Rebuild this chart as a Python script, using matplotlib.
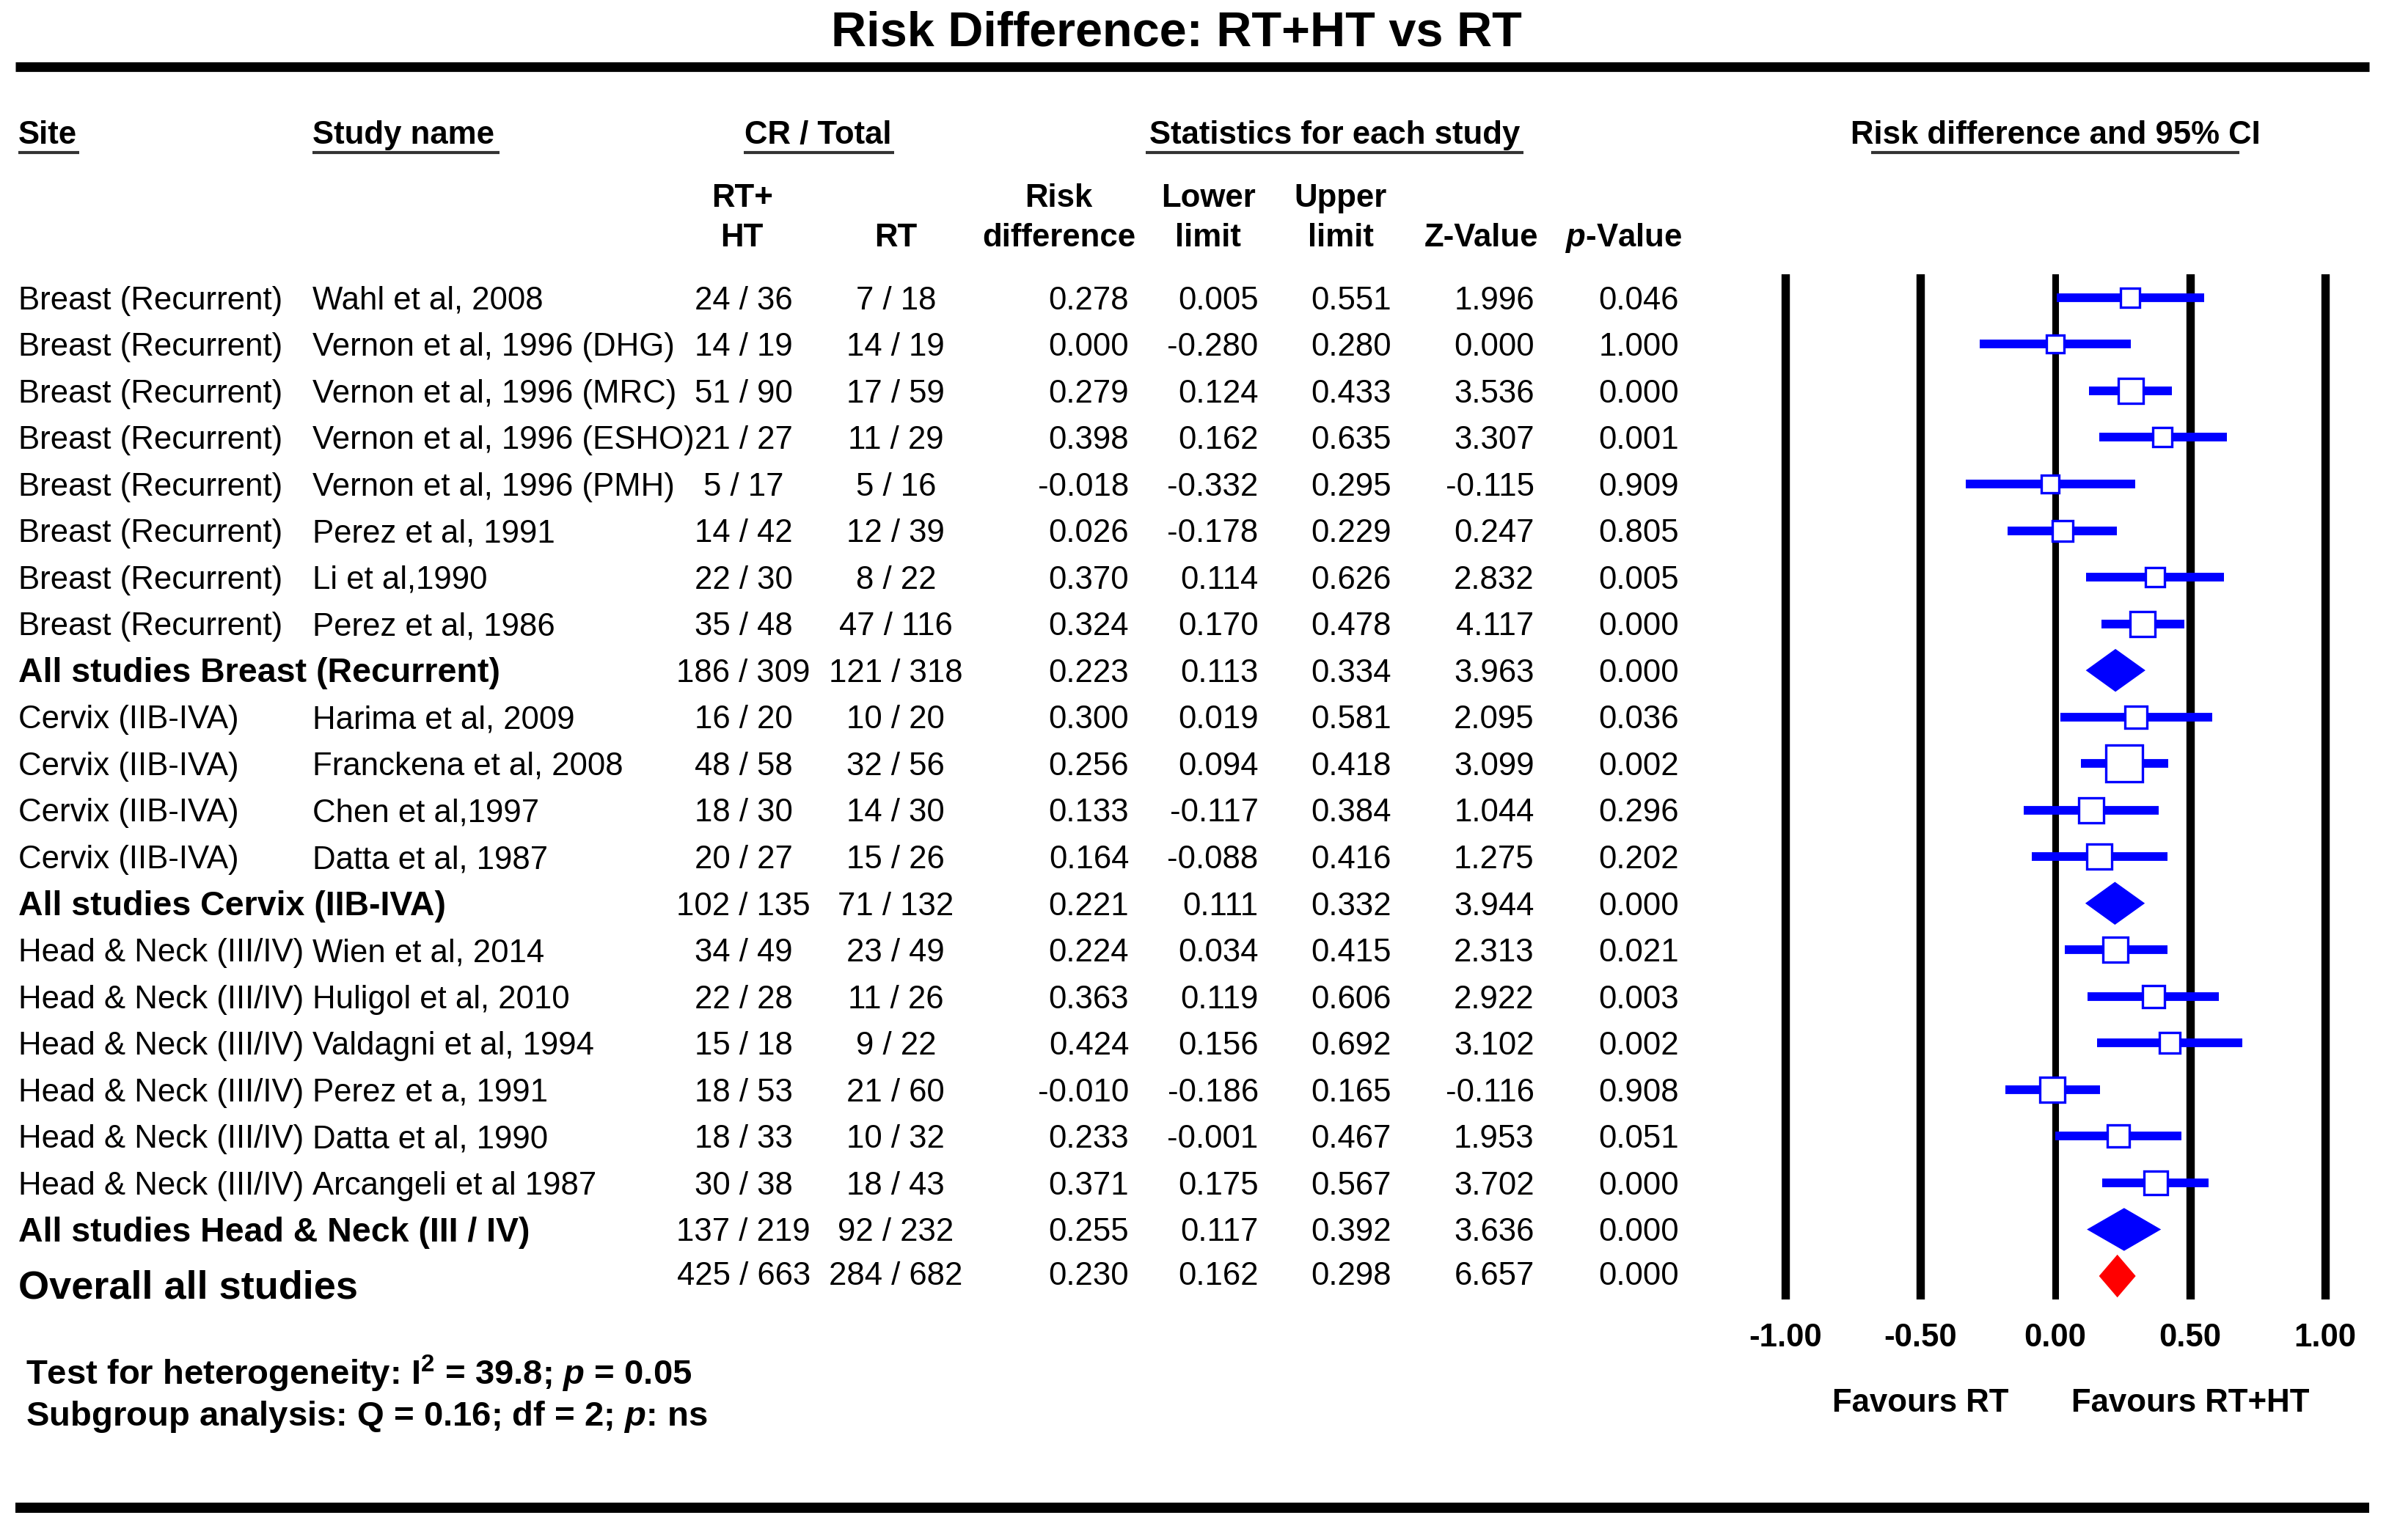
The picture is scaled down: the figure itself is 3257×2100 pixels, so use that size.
import matplotlib
matplotlib.use("Agg")
import matplotlib.pyplot as plt
import numpy as np

plt.rcParams['font.family'] = ['Liberation Sans', 'DejaVu Sans']
plt.rcParams['mathtext.fontset'] = 'custom'
plt.rcParams['mathtext.rm'] = 'Liberation Sans:bold'
plt.rcParams['mathtext.it'] = 'Liberation Sans:bold:italic'

# ---- data ----
sites = ["Breast (Recurrent)"] * 8 + ["Cervix (IIB-IVA)"] * 4 + ["Head & Neck (III/IV)"] * 6
studies = ["Wahl et al, 2008", "Vernon et al, 1996 (DHG)", "Vernon et al, 1996 (MRC)",
           "Vernon et al, 1996 (ESHO)", "Vernon et al, 1996 (PMH)", "Perez et al, 1991",
           "Li et al,1990", "Perez et al, 1986",
           "Harima et al, 2009", "Franckena et al, 2008", "Chen et al,1997", "Datta et al, 1987",
           "Wien et al, 2014", "Huligol et al, 2010", "Valdagni et al, 1994", "Perez et a, 1991",
           "Datta et al, 1990", "Arcangeli et al 1987"]
ht_cr = [24, 14, 51, 21, 5, 14, 22, 35, 16, 48, 18, 20, 34, 22, 15, 18, 18, 30]
ht_n = [36, 19, 90, 27, 17, 42, 30, 48, 20, 58, 30, 27, 49, 28, 18, 53, 33, 38]
rt_cr = [7, 14, 17, 11, 5, 12, 8, 47, 10, 32, 14, 15, 23, 11, 9, 21, 10, 18]
rt_n = [18, 19, 59, 29, 16, 39, 22, 116, 20, 56, 30, 26, 49, 26, 22, 60, 32, 43]
rd = [0.278, 0.000, 0.279, 0.398, -0.018, 0.026, 0.370, 0.324,
      0.300, 0.256, 0.133, 0.164,
      0.224, 0.363, 0.424, -0.010, 0.233, 0.371]
lower = [0.005, -0.280, 0.124, 0.162, -0.332, -0.178, 0.114, 0.170,
         0.019, 0.094, -0.117, -0.088,
         0.034, 0.119, 0.156, -0.186, -0.001, 0.175]
upper = [0.551, 0.280, 0.433, 0.635, 0.295, 0.229, 0.626, 0.478,
         0.581, 0.418, 0.384, 0.416,
         0.415, 0.606, 0.692, 0.165, 0.467, 0.567]
zval = [1.996, 0.000, 3.536, 3.307, -0.115, 0.247, 2.832, 4.117,
        2.095, 3.099, 1.044, 1.275,
        2.313, 2.922, 3.102, -0.116, 1.953, 3.702]
pval = [0.046, 1.000, 0.000, 0.001, 0.909, 0.805, 0.005, 0.000,
        0.036, 0.002, 0.296, 0.202,
        0.021, 0.003, 0.002, 0.908, 0.051, 0.000]
weights = [6.8, 5.8, 10.9, 6.8, 5.3, 7.8, 6.3, 10.9,
           9.0, 25.0, 11.6, 10.9,
           10.9, 9.0, 8.4, 11.6, 9.0, 10.2]

groups = ["Breast (Recurrent)", "Cervix (IIB-IVA)", "Head & Neck (III / IV)"]
group_sizes = [8, 4, 6]
sum_ht = ["186 / 309", "102 / 135", "137 / 219"]
sum_rt = ["121 / 318", "71 / 132", "92 / 232"]
sum_rd = [0.223, 0.221, 0.255]
sum_lo = [0.113, 0.111, 0.117]
sum_hi = [0.334, 0.332, 0.392]
sum_z = [3.963, 3.944, 3.636]
sum_p = [0.000, 0.000, 0.000]

overall = dict(ht="425 / 663", rt="284 / 682", rd=0.230, lo=0.162, hi=0.298, z=6.657, p=0.000)

xticks = [-1.0, -0.5, 0.0, 0.5, 1.0]

# ---- layout (reference frame 1568 x 1011) ----
W, H = 1568.0, 1011.0
Y0, DY = 195.4, 30.59
TY = 2.0  # text nudge downwards
FS = 31.5
BLUE = '#0000FF'

fig = plt.figure(figsize=(32.57, 21.0), dpi=100)
bg = fig.add_axes([0, 0, 1, 1])
bg.set_xlim(0, W)
bg.set_ylim(H, 0)
bg.axis('off')

def ry(i):
    return Y0 + DY * i + TY

def fmt(v):
    return "%.3f" % v

def txt(x, y, s, ha='left', size=FS, bold=False):
    bg.text(x, y, s, ha=ha, va='center', fontsize=size,
            fontweight='bold' if bold else 'normal')

txt(772, 20 + TY, "Risk Difference: RT+HT vs RT", ha='center', size=48, bold=True)
bg.plot([10, 1555], [44, 44], color='black', lw=9.5, solid_capstyle='butt')
bg.plot([10, 1555], [990, 990], color='black', lw=10, solid_capstyle='butt')

# headers
hy = 87 + TY
txt(12, hy, "Site", bold=True)
txt(205, hy, "Study name", bold=True)
txt(537, hy, "CR / Total", ha='center', bold=True)
txt(876, hy, "Statistics for each study", ha='center', bold=True)
txt(1349, hy, "Risk difference and 95% CI", ha='center', bold=True)
for x0, x1 in [(12, 52), (205, 328), (488, 587), (752, 1000), (1228, 1470)]:
    bg.plot([x0, x1], [100, 100], color='#333333', lw=3, solid_capstyle='butt')

h1, h2 = 128 + TY, 154 + TY
txt(487, h1, "RT+", ha='center', bold=True)
txt(487, h2, "HT", ha='center', bold=True)
txt(588, h2, "RT", ha='center', bold=True)
txt(695, h1, "Risk", ha='center', bold=True)
txt(695, h2, "difference", ha='center', bold=True)
txt(793, h1, "Lower", ha='center', bold=True)
txt(793, h2, "limit", ha='center', bold=True)
txt(880, h1, "Upper", ha='center', bold=True)
txt(880, h2, "limit", ha='center', bold=True)
txt(972, h2, "Z-Value", ha='center', bold=True)
txt(1066, h2, r"$\mathit{p}$-Value", ha='center', bold=True)

# column anchors
X_SITE, X_STUDY, X_HT, X_RT = 12, 205, 488, 588
X_RD, X_LO, X_HI, X_Z, X_P = 741, 826, 913, 1007, 1102

def num_cols(y, a, b, c, d, e, f, g):
    txt(X_HT, y, a, ha='center')
    txt(X_RT, y, b, ha='center')
    for x, v in zip([X_RD, X_LO, X_HI, X_Z, X_P], [c, d, e, f, g]):
        txt(x, y, fmt(v), ha='right')

# forest axes
left = 1154.3 / W
right = 1543.7 / W
top = 180.1
bottom = 853.0
ax = fig.add_axes([left, 1 - bottom / H, right - left, (bottom - top) / H])
ax.set_xlim(-1.1, 1.1)
ax.set_ylim(21.5, -0.5)
for s in ax.spines.values():
    s.set_visible(False)
ax.set_yticks([])
ax.set_xticks(xticks)
ax.set_xticklabels(["%.2f" % t for t in xticks], fontsize=FS, fontweight='bold')
ax.tick_params(axis='x', length=0, pad=23)
for t in xticks:
    ax.axvline(t, color='black', lw=6.5 if t == 0 else 8.2, solid_capstyle='round')
ax.set_facecolor('none')

fy = 1 - (921 - top) / (bottom - top)
ax.text(-0.5, fy, "Favours RT", transform=ax.get_xaxis_transform(),
        ha='center', va='center', fontsize=FS, fontweight='bold', clip_on=False)
ax.text(0.5, fy, "Favours RT+HT", transform=ax.get_xaxis_transform(),
        ha='center', va='center', fontsize=FS, fontweight='bold', clip_on=False)

def diamond(row, c, lo, hi, color):
    h = 0.46
    ax.fill([lo, c, hi, c], [row, row - h, row, row + h], color=color, lw=0, zorder=5)

row = 0
k = 0
for g, n in enumerate(group_sizes):
    for j in range(n):
        y = ry(row)
        txt(X_SITE, y, sites[k])
        txt(X_STUDY, y, studies[k])
        num_cols(y, "%d / %d" % (ht_cr[k], ht_n[k]), "%d / %d" % (rt_cr[k], rt_n[k]),
                 rd[k], lower[k], upper[k], zval[k], pval[k])
        ax.plot([lower[k], upper[k]], [row, row], color=BLUE, lw=8.5,
                solid_capstyle='butt', zorder=4)
        ax.plot(rd[k], row, marker='s', ms=7.2 * np.sqrt(weights[k]), mfc='white',
                mec=BLUE, mew=2.4, zorder=6)
        row += 1
        k += 1
    y = ry(row)
    txt(X_SITE, y, "All studies " + groups[g], size=33.5, bold=True)
    num_cols(y, sum_ht[g], sum_rt[g], sum_rd[g], sum_lo[g], sum_hi[g], sum_z[g], sum_p[g])
    diamond(row, sum_rd[g], sum_lo[g], sum_hi[g], BLUE)
    row += 1

y = ry(row)
txt(X_SITE, y + 6, "Overall all studies", size=39, bold=True)
num_cols(y - 2, overall['ht'], overall['rt'], overall['rd'], overall['lo'], overall['hi'],
         overall['z'], overall['p'])
diamond(row, overall['rd'], overall['lo'], overall['hi'], '#FF0000')

txt(17, 900 + TY, r"Test for heterogeneity: I$^2$ = 39.8; $\mathit{p}$ = 0.05", size=34, bold=True)
txt(17, 928 + TY, r"Subgroup analysis: Q = 0.16; df = 2; $\mathit{p}$: ns", size=34, bold=True)

fig.savefig("out.png", dpi=100)
